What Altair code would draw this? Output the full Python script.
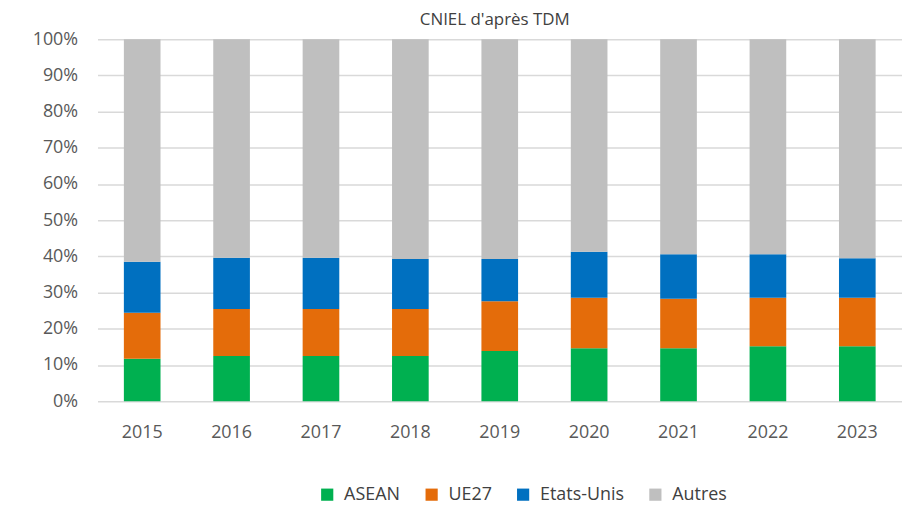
import altair as alt
import pandas as pd

years = ["2015", "2016", "2017", "2018", "2019", "2020", "2021", "2022", "2023"]
series = ["ASEAN", "UE27", "Etats-Unis", "Autres"]
colors = ["#00B050", "#E46C0A", "#0070C0", "#BFBFBF"]

asean = [11.7, 12.5, 12.5, 12.5, 13.9, 14.6, 14.6, 15.2, 15.2]
ue27 = [12.7, 13.0, 13.0, 13.0, 13.7, 14.0, 13.7, 13.4, 13.4]
etats_unis = [14.1, 14.1, 14.1, 13.8, 11.7, 12.7, 12.3, 12.0, 10.9]
autres = [61.5, 60.4, 60.4, 60.7, 60.7, 58.7, 59.4, 59.4, 60.5]

values = [asean, ue27, etats_unis, autres]
rows = []
for si, (name, vals) in enumerate(zip(series, values)):
    for y, v in zip(years, vals):
        rows.append({"year": y, "series": name, "share": v / 100.0, "order": si})
df = pd.DataFrame(rows)

FONT = "Open Sans"

chart = (
    alt.Chart(df)
    .mark_bar()
    .encode(
        x=alt.X(
            "year:N",
            sort=years,
            title=None,
            scale=alt.Scale(paddingInner=0.59, paddingOuter=0.295),
            axis=alt.Axis(
                labelAngle=0,
                domain=False,
                ticks=False,
                labelPadding=23,
                labelFontSize=18,
                labelColor="#595959",
                labelFont=FONT,
            ),
        ),
        y=alt.Y(
            "share:Q",
            stack="zero",
            title=None,
            scale=alt.Scale(domain=[0, 1], nice=False),
            axis=alt.Axis(
                format=".0%",
                values=[i / 10 for i in range(11)],
                domain=False,
                ticks=False,
                grid=True,
                gridColor="#D9D9D9",
                gridWidth=1.5,
                labelPadding=20,
                labelFontSize=18,
                labelColor="#595959",
                labelFont=FONT,
                minExtent=85,
                maxExtent=85,
            ),
        ),
        color=alt.Color(
            "series:N",
            scale=alt.Scale(domain=series, range=colors),
            sort=series,
            legend=alt.Legend(
                title=None,
                orient="none",
                direction="horizontal",
                legendX=222,
                legendY=449,
                symbolType="square",
                symbolSize=150,
                symbolStrokeWidth=0,
                labelFontSize=18,
                labelColor="#404040",
                labelFont=FONT,
                labelOffset=8,
                columnPadding=22,
            ),
        ),
        order=alt.Order("order:Q", sort="ascending"),
    )
    .properties(
        width=809,
        height=364,
        padding={"left": 5, "top": 2, "right": 0, "bottom": 0},
        title=alt.TitleParams(
            "CNIEL d'après TDM",
            fontSize=17,
            font=FONT,
            fontWeight="normal",
            color="#404040",
            anchor="middle",
            offset=1,
            dx=-5,
        ),
    )
    .configure_view(stroke=None)
)

chart.save("out.html", embed_options={"renderer": "svg", "actions": False})
